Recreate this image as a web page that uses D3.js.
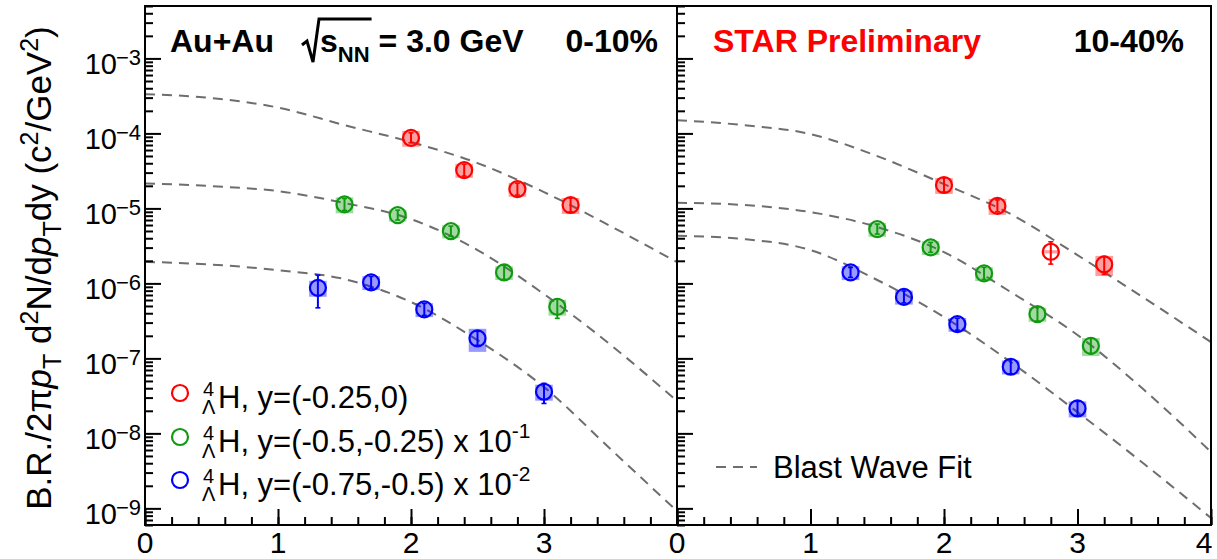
<!DOCTYPE html>
<html>
<head>
<meta charset="utf-8">
<script src="https://cdnjs.cloudflare.com/ajax/libs/d3/7.8.5/d3.min.js"></script>
<style>
  body { margin: 0; background: #fff; }
  text { font-family: "Liberation Sans", Arial, Helvetica, sans-serif; }
</style>
</head>
<body>
<div id="chart"></div>
<script>
// pT bin centres (GeV/c) for each rapidity window
var ptRed = [2.0, 2.4, 2.8, 3.2];
var ptGreen = [1.5, 1.9, 2.3, 2.7, 3.1];
var ptBlue = [1.3, 1.7, 2.1, 2.5, 3.0];

// 0-10% yields
var red010 = [8.73e-5, 3.24e-5, 1.81e-5, 1.11e-5];
var green010 = [1.13e-5, 8.15e-6, 4.98e-6, 1.40e-6, 4.88e-7];
var blue010 = [8.73e-7, 1.03e-6, 4.50e-7, 1.85e-7, 3.59e-8];
// 10-40% yields
var red1040 = [2.05e-5, 1.08e-5, 2.64e-6, 1.79e-6];
var green1040 = [5.30e-6, 3.02e-6, 1.36e-6, 3.90e-7, 1.47e-7];
var blue1040 = [1.40e-6, 6.60e-7, 2.86e-7, 7.73e-8, 2.15e-8];

// relative stat. errors [up, down]
var redStat010 = [[.166, .142], [.202, .168], [.202, .168], [.240, .193]];
var greenStat010 = [[.202, .168], [.166, .142], [.166, .142], [.240, .193], [.267, .300]];
var blueStat010 = [[.477, .459], [.202, .168], [.202, .168], [.240, .193], [.294, .302]];
var redStat1040 = [[.240, .193], [.202, .168], [.359, .315], [.278, .264]];
var greenStat1040 = [[.166, .142], [.166, .142], [.202, .168], [.240, .193], [.278, .218]];
var blueStat1040 = [[.166, .142], [.202, .168], [.202, .168], [.240, .193], [.240, .193]];

// relative syst. errors (boxes)
var redSys010 = [.24, .21, .21, .24];
var greenSys010 = [.24, .18, .20, .21, .24];
var blueSys010 = [.24, .21, .21, .34, .24];
var redSys1040 = [.24, .24, .05, .30];
var greenSys1040 = [.21, .21, .21, .21, .27];
var blueSys1040 = [.21, .21, .21, .21, .24];

// blast wave fit curves
var fitPt = [0, 0.5, 1.0, 1.5, 2.0, 2.5, 3.0, 3.5, 4.0];
var fitRed010 = [3.34e-4, 2.96e-4, 2.21e-4, 1.29e-4, 7.66e-5, 4.02e-5, 1.65e-5, 5.81e-6, 1.92e-6];
var fitGreen010 = [2.15e-5, 1.98e-5, 1.70e-5, 1.18e-5, 7.20e-6, 2.78e-6, 7.20e-7, 1.52e-7, 2.70e-8];
var fitBlue010 = [1.94e-6, 1.78e-6, 1.50e-6, 1.14e-6, 5.64e-7, 1.75e-7, 4.14e-8, 6.18e-9, 9.20e-10];
var fitRed1040 = [1.50e-4, 1.29e-4, 9.80e-5, 4.98e-5, 2.11e-5, 8.39e-6, 2.38e-6, 6.37e-7, 1.65e-7];
var fitGreen1040 = [1.19e-5, 1.11e-5, 8.93e-6, 5.64e-6, 2.61e-6, 7.66e-7, 2.05e-7, 3.78e-8, 5.64e-9];
var fitBlue1040 = [4.31e-6, 3.90e-6, 2.78e-6, 1.11e-6, 3.56e-7, 8.93e-8, 1.92e-8, 3.90e-9, 7.43e-10];

// axis ticks
var yMajorExp = [-3, -4, -5, -6, -7, -8, -9];
var xLabelsLeft = [0, 1, 2, 3];
var xLabelsRight = [0, 1, 2, 3, 4];

var legendLabels = ["H, y=(-0.25,0)", "H, y=(-0.5,-0.25) x 10", "H, y=(-0.75,-0.5) x 10"];
var legendExpo = ["", "-1", "-2"];

var colors = { red: "#ff0000", green: "#0f9a0f", blue: "#0000ff" };
var boxFill = { red: "rgba(255,0,0,0.38)", green: "rgba(15,154,15,0.38)", blue: "rgba(0,0,255,0.40)" };

var W = 1217, H = 559;
var plotTop = 6, plotBottom = 525;

var svg = d3.select("#chart").append("svg")
    .attr("width", W)
    .attr("height", H)
    .style("background", "#fff");

var y = d3.scaleLog().domain([6e-10, 5e-3]).range([plotBottom, plotTop]);

var panels = [
    { x0: 145, x1: 677, xLabels: xLabelsLeft,
      series: [
        { c: "red", pt: ptRed, v: red010, st: redStat010, sy: redSys010 },
        { c: "green", pt: ptGreen, v: green010, st: greenStat010, sy: greenSys010 },
        { c: "blue", pt: ptBlue, v: blue010, st: blueStat010, sy: blueSys010 }],
      fits: [fitRed010, fitGreen010, fitBlue010] },
    { x0: 677, x1: 1211, xLabels: xLabelsRight,
      series: [
        { c: "red", pt: ptRed, v: red1040, st: redStat1040, sy: redSys1040 },
        { c: "green", pt: ptGreen, v: green1040, st: greenStat1040, sy: greenSys1040 },
        { c: "blue", pt: ptBlue, v: blue1040, st: blueStat1040, sy: blueSys1040 }],
      fits: [fitRed1040, fitGreen1040, fitBlue1040] }
];

// minor log ticks inside the y domain
var yMinor = [];
for (var e = -10; e <= -3; e++) {
    for (var k = 2; k <= 9; k++) {
        var v = k * Math.pow(10, e);
        if (v >= 6e-10 && v <= 5e-3) yMinor.push(v);
    }
}
var xMinor = d3.range(0, 4.001, 0.2);

panels.forEach(function(p, pi) {
    var x = d3.scaleLinear().domain([0, 4]).range([p.x0, p.x1]);
    var g = svg.append("g");

    g.append("clipPath").attr("id", "clip" + pi)
        .append("rect")
        .attr("x", p.x0).attr("y", plotTop)
        .attr("width", p.x1 - p.x0).attr("height", plotBottom - plotTop);

    var line = d3.line()
        .x(function(d) { return x(d[0]); })
        .y(function(d) { return y(d[1]); })
        .curve(d3.curveMonotoneX);

    // blast wave fits
    g.append("g").attr("clip-path", "url(#clip" + pi + ")")
        .selectAll("path")
        .data(p.fits)
        .enter()
        .append("path")
        .attr("d", function(f) { return line(d3.zip(fitPt, f)); })
        .attr("fill", "none")
        .attr("stroke", "#6e6e6e")
        .attr("stroke-width", 2)
        .attr("stroke-dasharray", "10,7");

    p.series.forEach(function(s) {
        var pts = s.pt.map(function(t, i) {
            return { pt: t, v: s.v[i], up: s.st[i][0], dn: s.st[i][1], sys: s.sy[i] };
        });
        var sg = g.append("g");

        // systematic boxes
        sg.selectAll("rect.sys")
            .data(pts)
            .enter()
            .append("rect")
            .attr("class", "sys")
            .attr("x", function(d) { return x(d.pt - 0.066); })
            .attr("width", function(d) { return x(d.pt + 0.066) - x(d.pt - 0.066); })
            .attr("y", function(d) { return y(d.v * (1 + d.sys)); })
            .attr("height", function(d) { return y(d.v * (1 - d.sys)) - y(d.v * (1 + d.sys)); })
            .attr("fill", boxFill[s.c]);

        // stat error bars
        sg.selectAll("line.bar")
            .data(pts)
            .enter()
            .append("line")
            .attr("class", "bar")
            .attr("x1", function(d) { return x(d.pt); })
            .attr("x2", function(d) { return x(d.pt); })
            .attr("y1", function(d) { return y(d.v * (1 + d.up)); })
            .attr("y2", function(d) { return y(d.v * (1 - d.dn)); })
            .attr("stroke", colors[s.c])
            .attr("stroke-width", 2);

        ["up", "dn"].forEach(function(side) {
            sg.selectAll("line.cap" + side)
                .data(pts)
                .enter()
                .append("line")
                .attr("class", "cap" + side)
                .attr("x1", function(d) { return x(d.pt) - 2.5; })
                .attr("x2", function(d) { return x(d.pt) + 2.5; })
                .attr("y1", function(d) { return y(side == "up" ? d.v * (1 + d.up) : d.v * (1 - d.dn)); })
                .attr("y2", function(d) { return y(side == "up" ? d.v * (1 + d.up) : d.v * (1 - d.dn)); })
                .attr("stroke", colors[s.c])
                .attr("stroke-width", 1.6);
        });

        // open markers
        sg.selectAll("circle")
            .data(pts)
            .enter()
            .append("circle")
            .attr("cx", function(d) { return x(d.pt); })
            .attr("cy", function(d) { return y(d.v); })
            .attr("r", 8)
            .attr("fill", "none")
            .attr("stroke", colors[s.c])
            .attr("stroke-width", 2.2);
    });

    // y ticks, pointing into the panel
    var yMajorVals = yMajorExp.map(function(e) { return Math.pow(10, e); });
    g.append("g").attr("transform", "translate(" + p.x0 + ",0)")
        .call(d3.axisRight(y).tickValues(yMajorVals).tickSize(16).tickFormat(""));
    g.append("g").attr("transform", "translate(" + p.x0 + ",0)")
        .call(d3.axisRight(y).tickValues(yMinor).tickSize(8).tickFormat(""));

    // x ticks, pointing up
    g.append("g").attr("transform", "translate(0," + plotBottom + ")")
        .call(d3.axisTop(x).tickValues([0, 1, 2, 3, 4]).tickSize(16).tickFormat(""));
    g.append("g").attr("transform", "translate(0," + plotBottom + ")")
        .call(d3.axisTop(x).tickValues(xMinor).tickSize(8).tickFormat(""));

    g.selectAll(".domain").remove();
    g.selectAll(".tick line").attr("stroke", "#000").attr("stroke-width", 2);

    g.selectAll("text.xlab")
        .data(p.xLabels)
        .enter()
        .append("text")
        .attr("class", "xlab")
        .attr("x", function(d) { return Math.min(x(d), 1204); })
        .attr("y", 553)
        .attr("text-anchor", "middle")
        .attr("font-size", 30)
        .text(function(d) { return d; });

    // frame
    g.append("rect")
        .attr("x", p.x0).attr("y", plotTop)
        .attr("width", p.x1 - p.x0).attr("height", plotBottom - plotTop)
        .attr("fill", "none")
        .attr("stroke", "#000")
        .attr("stroke-width", 2);
});

// y tick labels (left panel only)
var yl = svg.append("g");
yMajorExp.forEach(function(e) {
    var yy = y(Math.pow(10, e));
    yl.append("text")
        .attr("x", 117).attr("y", yy + 16)
        .attr("text-anchor", "end")
        .attr("font-size", 29)
        .text("10");
    yl.append("text")
        .attr("x", 141).attr("y", yy + 7)
        .attr("text-anchor", "end")
        .attr("font-size", 22)
        .text("\u2212" + (-e));
});

// y axis title
var yt = svg.append("text")
    .attr("transform", "translate(51,268) rotate(-90)")
    .attr("text-anchor", "middle")
    .attr("font-size", 35);
yt.append("tspan").text("B.R./2\u03c0");
yt.append("tspan").attr("font-style", "italic").text("p");
yt.append("tspan").attr("font-size", 25).attr("dy", 10).text("T");
yt.append("tspan").attr("dy", -10).text(" d");
yt.append("tspan").attr("font-size", 25).attr("dy", -13).text("2");
yt.append("tspan").attr("dy", 13).text("N/d");
yt.append("tspan").attr("font-style", "italic").text("p");
yt.append("tspan").attr("font-size", 25).attr("dy", 10).text("T");
yt.append("tspan").attr("dy", -10).text("dy (c");
yt.append("tspan").attr("font-size", 25).attr("dy", -13).text("2");
yt.append("tspan").attr("dy", 13).text("/GeV");
yt.append("tspan").attr("font-size", 25).attr("dy", -13).text("2");
yt.append("tspan").attr("dy", 13).text(")");

// header texts
var hdr = svg.append("g").attr("font-weight", "bold").attr("font-size", 32);
hdr.append("text").attr("x", 170).attr("y", 52).text("Au+Au");
var sX = 320;
var tS = hdr.append("text").attr("x", sX).attr("y", 52).text("s");
var sW = tS.node().getComputedTextLength();
var tNN = hdr.append("text").attr("x", sX + sW).attr("y", 62).attr("font-size", 22).text("NN");
var nnEnd = sX + sW + tNN.node().getComputedTextLength();
hdr.append("path")
    .attr("d", "M302,45 L307,41 L313,62 L319,19 L" + (nnEnd + 2) + ",19")
    .attr("fill", "none")
    .attr("stroke", "#000")
    .attr("stroke-width", 3);
hdr.append("text").attr("x", nnEnd + 9).attr("y", 52).text("= 3.0 GeV");
hdr.append("text").attr("x", 658).attr("y", 52).attr("text-anchor", "end").text("0-10%");
hdr.append("text").attr("x", 713).attr("y", 52).attr("fill", "#f00").text("STAR Preliminary");
hdr.append("text").attr("x", 1184).attr("y", 52).attr("text-anchor", "end").text("10-40%");

// legend, left panel
var legY = [393, 437, 480];
var lg = svg.append("g");
["red", "green", "blue"].forEach(function(c, i) {
    var cy = legY[i];
    lg.append("circle")
        .attr("cx", 180).attr("cy", cy).attr("r", 8)
        .attr("fill", "none").attr("stroke", colors[c]).attr("stroke-width", 2.2);
    var t = lg.append("text").attr("x", 203).attr("y", cy + 3).attr("font-size", 31);
    t.append("tspan").attr("font-size", 20).text("4");
    t.append("tspan").attr("font-size", 20).attr("x", 202).attr("dy", 18).text("\u039b");
    t.append("tspan").attr("x", 218).attr("dy", -6).text(legendLabels[i]);
    if (legendExpo[i]) t.append("tspan").attr("font-size", 21).attr("dy", -14).text(legendExpo[i]);
});

// legend, right panel
svg.append("line")
    .attr("x1", 716).attr("x2", 757).attr("y1", 467).attr("y2", 467)
    .attr("stroke", "#6e6e6e").attr("stroke-width", 2).attr("stroke-dasharray", "10,7");
svg.append("text").attr("x", 773).attr("y", 478).attr("font-size", 31).text("Blast Wave Fit");
</script>
</body>
</html>
